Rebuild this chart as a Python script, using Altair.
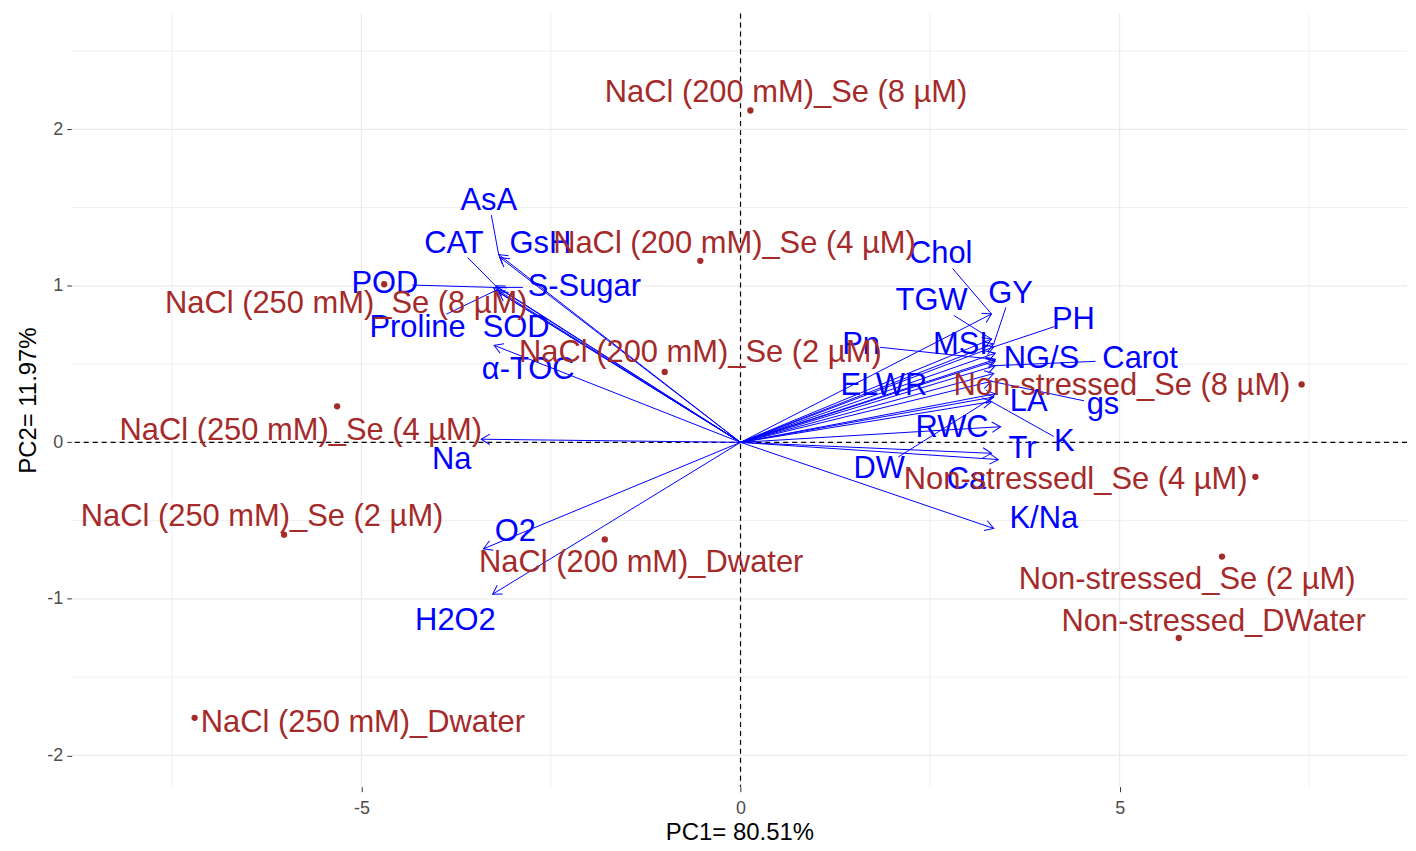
import math
import altair as alt
import pandas as pd

# ---------------- data ----------------
ind_names = [
    "NaCl (200 mM)_Se (8 µM)", "NaCl (200 mM)_Se (4 µM)", "NaCl (250 mM)_Se (8 µM)",
    "NaCl (200 mM)_Se (2 µM)", "NaCl (250 mM)_Se (4 µM)", "NaCl (250 mM)_Se (2 µM)",
    "NaCl (200 mM)_Dwater", "NaCl (250 mM)_Dwater", "Non-stressed_Se (8 µM)",
    "Non-stressedl_Se (4 µM)", "Non-stressed_Se (2 µM)", "Non-stressed_DWater",
]
ind_pc1 = [0.13, -0.53, -4.70, -1.00, -5.32, -6.02, -1.79, -7.20, 7.40, 6.79, 6.35, 5.78]
ind_pc2 = [2.12, 1.16, 1.01, 0.45, 0.23, -0.59, -0.62, -1.76, 0.37, -0.22, -0.73, -1.25]
ind_label_pc1 = [0.60, -0.08, -5.20, -0.53, -5.80, -6.31, -1.31, -4.98, 5.03, 4.42, 5.89, 6.24]
ind_label_pc2 = [2.23, 1.27, 0.885, 0.57, 0.07, -0.48, -0.77, -1.79, 0.36, -0.24, -0.88, -1.15]

var_names = [
    "AsA", "GsH", "CAT", "POD", "S-Sugar", "Proline", "SOD", "α-TOC", "Na", "O2", "H2O2",
    "Chol", "TGW", "GY", "PH", "MSI", "Pn", "NG/S", "Carot", "ELWR", "gs", "LA", "DW",
    "K", "RWC", "Ca", "Tr", "K/Na",
]
var_pc1 = [-3.19, -3.17, -3.23, -3.26, -3.21, -3.23, -3.19, -3.25, -3.42, -3.39, -3.27,
           3.31, 3.31, 3.34, 3.34, 3.36, 3.36, 3.36, 3.36, 3.34, 3.31, 3.36, 3.34,
           3.31, 3.43, 3.31, 3.40, 3.34]
var_pc2 = [1.20, 1.18, 1.00, 0.99, 0.99, 0.97, 0.96, 0.62, 0.02, -0.68, -0.97,
           0.82, 0.66, 0.63, 0.61, 0.57, 0.53, 0.52, 0.49, 0.44, 0.39, 0.31, 0.29,
           0.26, 0.10, -0.07, -0.11, -0.55]
var_label_pc1 = [-3.32, -2.64, -3.78, -4.69, -2.06, -4.26, -2.96, -2.80, -3.81, -2.97, -3.76,
                 2.64, 2.52, 3.56, 4.39, 2.90, 1.59, 3.97, 5.27, 1.89, 4.78, 3.80, 1.83,
                 4.27, 2.79, 2.98, 3.72, 4.00]
var_label_pc2 = [1.54, 1.27, 1.27, 1.01, 0.99, 0.73, 0.73, 0.46, -0.11, -0.57, -1.14,
                 1.20, 0.90, 0.95, 0.78, 0.62, 0.62, 0.53, 0.53, 0.36, 0.24, 0.26, -0.17,
                 0.00, 0.09, -0.24, -0.04, -0.49]
var_with_segment = ["AsA", "CAT", "POD", "S-Sugar", "Proline", "Chol", "TGW", "GY", "PH",
                    "Pn", "Carot", "gs", "K", "DW"]

x_major = [-5, 0, 5]
y_major = [-2, -1, 0, 1, 2]
x_minor = [-7.5, -2.5, 2.5, 7.5]
y_minor = [-1.5, -0.5, 0.5, 1.5, 2.5]
zero_line = [0]

X_DOMAIN = [-8.82, 8.79]
Y_DOMAIN = [-2.20, 2.74]
W, H = 1340, 776
FONT = "Liberation Sans"
LABEL_SIZE = 31
BLUE = "#0000FF"
BROWN = "#A52A2A"

sx = W / (X_DOMAIN[1] - X_DOMAIN[0])
sy = H / (Y_DOMAIN[1] - Y_DOMAIN[0])

# ---------------- tables ----------------
ind = pd.DataFrame({"name": ind_names, "x": ind_pc1, "y": ind_pc2,
                    "lx": ind_label_pc1, "ly": ind_label_pc2})

rows = []
seg_rows = []
for n, x, y, lx, ly in zip(var_names, var_pc1, var_pc2, var_label_pc1, var_label_pc2):
    ang = math.degrees(math.atan2(-y * sy, x * sx)) % 360
    rows.append({"name": n, "x0": 0.0, "y0": 0.0, "x": x, "y": y, "lx": lx, "ly": ly, "ang": ang})
    if n in var_with_segment:
        dxp = (x - lx) * sx
        dyp = (y - ly) * sy
        hw = len(n) * 0.55 * LABEL_SIZE / 2 + 2
        hh = 0.45 * LABEL_SIZE
        t = min(hw / abs(dxp) if dxp else 1e9, hh / abs(dyp) if dyp else 1e9)
        if t < 1:
            seg_rows.append({"sx": lx + t * (x - lx), "sy": ly + t * (y - ly), "x": x, "y": y})
var = pd.DataFrame(rows)
segs = pd.DataFrame(seg_rows)

xs = alt.Scale(domain=X_DOMAIN, nice=False, zero=False)
ys = alt.Scale(domain=Y_DOMAIN, nice=False, zero=False)

# ---------------- layers ----------------
grid_minor_x = alt.Chart(pd.DataFrame({"v": x_minor})).mark_rule(color="#EBEBEB", strokeWidth=0.8).encode(
    x=alt.X("v:Q", scale=xs))
grid_minor_y = alt.Chart(pd.DataFrame({"v": y_minor})).mark_rule(color="#EBEBEB", strokeWidth=0.8).encode(
    y=alt.Y("v:Q", scale=ys))
grid_major_x = alt.Chart(pd.DataFrame({"v": x_major})).mark_rule(color="#EBEBEB", strokeWidth=1.2).encode(
    x=alt.X("v:Q", scale=xs))
grid_major_y = alt.Chart(pd.DataFrame({"v": y_major})).mark_rule(color="#EBEBEB", strokeWidth=1.2).encode(
    y=alt.Y("v:Q", scale=ys))

zero_x = alt.Chart(pd.DataFrame({"v": zero_line})).mark_rule(
    color="black", strokeWidth=1.2, strokeDash=[5, 4]).encode(x=alt.X("v:Q", scale=xs))
zero_y = alt.Chart(pd.DataFrame({"v": zero_line})).mark_rule(
    color="black", strokeWidth=1.2, strokeDash=[5, 4]).encode(y=alt.Y("v:Q", scale=ys))

base_var = alt.Chart(var)

arrows = base_var.mark_rule(color=BLUE, strokeWidth=1).encode(
    x=alt.X("x0:Q", scale=xs), y=alt.Y("y0:Q", scale=ys),
    x2="x:Q", y2="y:Q")

heads = base_var.mark_point(
    shape="M -1 -0.6 L 0 0 L -1 0.6", filled=False, color=BLUE, strokeWidth=1, size=300, opacity=1
).encode(
    x=alt.X("x:Q", scale=xs), y=alt.Y("y:Q", scale=ys),
    angle=alt.Angle("ang:Q", scale=None))

connectors = alt.Chart(segs).mark_rule(color=BLUE, strokeWidth=1).encode(
    x=alt.X("sx:Q", scale=xs), y=alt.Y("sy:Q", scale=ys), x2="x:Q", y2="y:Q")

points = alt.Chart(ind).mark_circle(color=BROWN, size=40, opacity=1).encode(
    x=alt.X("x:Q", scale=xs), y=alt.Y("y:Q", scale=ys))

ind_text = alt.Chart(ind).mark_text(
    font=FONT, fontSize=LABEL_SIZE, color=BROWN, align="center", baseline="middle"
).encode(x=alt.X("lx:Q", scale=xs), y=alt.Y("ly:Q", scale=ys), text="name:N")

var_text = base_var.mark_text(
    font=FONT, fontSize=LABEL_SIZE, color=BLUE, align="center", baseline="middle"
).encode(x=alt.X("lx:Q", scale=xs), y=alt.Y("ly:Q", scale=ys), text="name:N")

# axes carrier layer
axes = alt.Chart(pd.DataFrame({"v": zero_line})).mark_point(opacity=0).encode(
    x=alt.X("v:Q", scale=xs, title="PC1= 80.51%",
            axis=alt.Axis(values=x_major, grid=False, domain=False, tickColor="#333333",
                          tickSize=5, labelColor="#4D4D4D", labelFontSize=18, labelFont=FONT,
                          labelExpr="'' + datum.value", labelPadding=8,
                          titleFont=FONT, titleFontSize=24, titleFontWeight="normal",
                          titleColor="black", titlePadding=3)),
    y=alt.Y("v:Q", scale=ys, title="PC2= 11.97%",
            axis=alt.Axis(values=y_major, grid=False, domain=False, tickColor="#333333",
                          tickSize=5, labelColor="#4D4D4D", labelFontSize=18, labelFont=FONT,
                          labelExpr="'' + datum.value", labelPadding=4,
                          titleFont=FONT, titleFontSize=24, titleFontWeight="normal",
                          titleColor="black", titlePadding=6)),
)

chart = alt.layer(
    axes, grid_minor_x, grid_minor_y, grid_major_x, grid_major_y, zero_x, zero_y,
    arrows, heads, connectors, points, var_text, ind_text
).properties(
    width=W, height=H, padding={"left": 8, "top": 3, "right": 0, "bottom": 0}
).configure(background="white").configure_view(strokeWidth=0)

chart.save("out.html", embed_options={"renderer": "svg", "actions": False})
